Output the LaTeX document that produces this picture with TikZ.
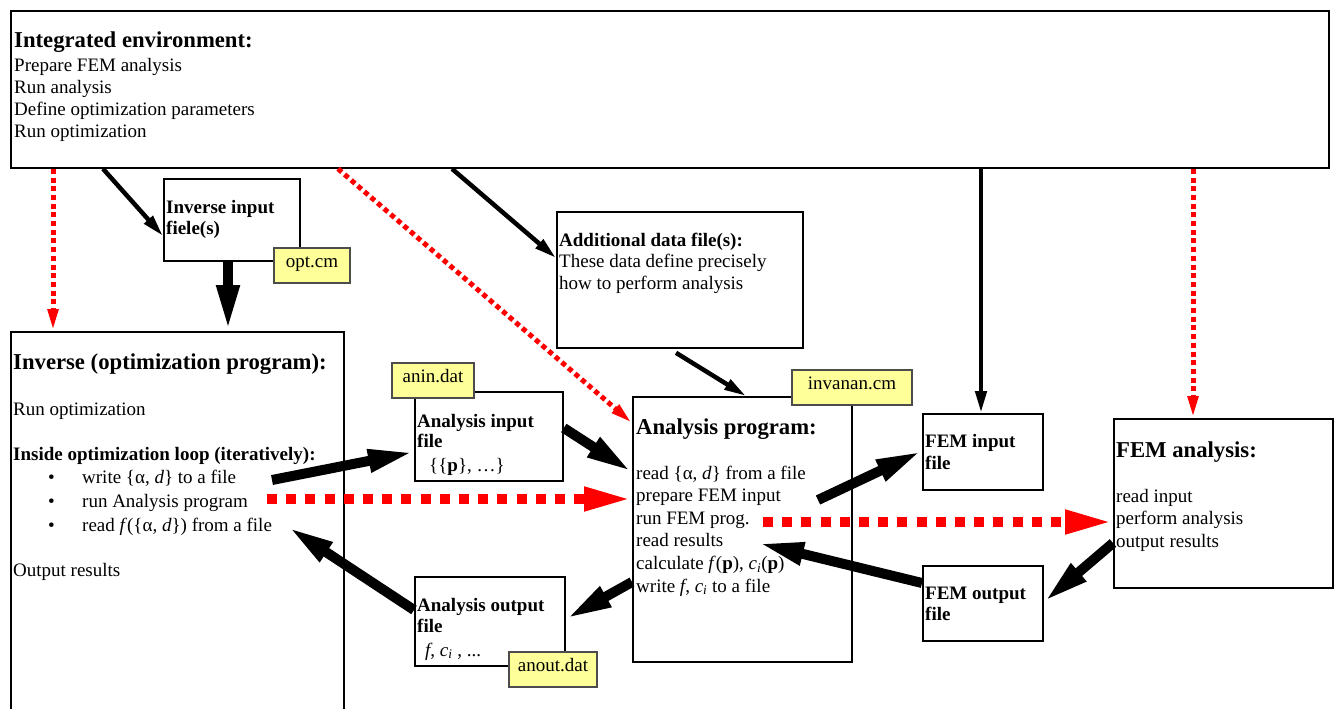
\documentclass[tikz,border=0pt]{standalone}
\usepackage{fontspec}
\setmainfont{Liberation Serif}
\usetikzlibrary{arrows.meta}
\definecolor{lbl}{RGB}{255,255,153}
\newcommand{\bodyfont}{\fontsize{19}{22}\selectfont}
\newcommand{\bigfont}{\fontsize{22.7}{26}\selectfont\bfseries}
\begin{document}
\begin{tikzpicture}[x=1pt,y=-1pt,
  box/.style={draw=black, line width=1.8pt, fill=white, inner sep=0, anchor=north west},
  lblbox/.style={draw=black!70, line width=1.2pt, fill=lbl, inner sep=0, minimum height=35pt, text height=12pt, text depth=8pt, font=\bodyfont},
  txt/.style={anchor=base west, inner sep=0, align=left, font=\bodyfont},
  thinarr/.style={line width=4.5pt, -{Triangle[length=22pt,width=11pt]}},
  thickarr/.style={line width=10pt, -{Triangle[length=46pt,width=21pt]}},
  reddot/.style={color=red, line width=5pt, dash pattern=on 5pt off 3.7pt, -{Triangle[length=22pt,width=10pt]}},
  reddash/.style={color=red, line width=10pt, dash pattern=on 10pt off 9.2pt, -{Triangle[length=48pt,width=22pt]}},
]
\useasboundingbox (0,0) rectangle (1339,709);
\clip (0,0) rectangle (1339,709);
\fill[white] (0,0) rectangle (1339,709);

% boxes
\node[box, minimum width=1318pt, minimum height=157pt] (top) at (10,10) {};
\node[box, minimum width=136pt, minimum height=82pt] (invin) at (163,178) {};
\node[box, minimum width=333pt, minimum height=420pt] (inv) at (10,331) {};
\node[box, minimum width=246pt, minimum height=136pt] (add) at (556,211) {};
\node[box, minimum width=219pt, minimum height=265pt] (ana) at (632,396) {};
\node[box, minimum width=148pt, minimum height=89pt] (ain) at (414,391) {};
\node[box, minimum width=150pt, minimum height=89pt] (aout) at (414,576) {};
\node[box, minimum width=120pt, minimum height=76pt] (femin) at (922,413) {};
\node[box, minimum width=120pt, minimum height=75pt] (femout) at (922,565) {};
\node[box, minimum width=219pt, minimum height=169pt] (fem) at (1113,418) {};

% texts (multi-line nodes are placed by the baseline of their last line)
\node[txt, font=\bigfont] (tH) at (14,48) {Integrated environment:};
\node[txt] (tB) at (14,137) {Prepare FEM analysis\\Run analysis\\Define optimization parameters\\Run optimization};

\node[txt, font=\fontsize{19}{21.7}\selectfont\bfseries] (iiT) at (166,234.7) {Inverse input\\fiele(s)};

\node[txt, font=\bigfont] (iH) at (13,369) {Inverse (optimization program):};
\node[txt] (iR) at (13,415) {Run optimization};
\node[txt, font=\fontsize{19}{22}\selectfont\bfseries] (iL) at (13,460) {Inside optimization loop (iteratively):};
\node[txt, font=\fontsize{19}{24}\selectfont] (iB) at (48,531) {\makebox[34pt][l]{•}write \{α, \textit{d}\} to a file\\\makebox[34pt][l]{•}run Analysis program\\\makebox[34pt][l]{•}read \textit{f}(\{α, \textit{d}\}) from a file};
\node[txt] (iO) at (13,576) {Output results};

\node[txt, font=\fontsize{19}{21.8}\selectfont] (adT) at (559,289.6) {\textbf{Additional data file(s):}\\These data define precisely\\how to perform analysis};

\node[txt, font=\fontsize{19}{20.6}\selectfont\bfseries] (aiT) at (417,447.6) {Analysis input\\file};
\node[txt] (aiP) at (429,471) {\{\{\textbf{p}\}, …\}};

\node[txt, font=\fontsize{19}{21}\selectfont\bfseries] (aoT) at (417,632) {Analysis output\\file};
\node[txt] (aoF) at (425,656) {\textit{f}, \textit{c}\textsubscript{\textit{i}} , ...};

\node[txt, font=\bigfont] (apH) at (636,434) {Analysis program:};
\node[txt, font=\fontsize{19}{22.6}\selectfont] (apB) at (636,592) {read \{α, \textit{d}\} from a file\\prepare FEM input\\run FEM prog.\\read results\\calculate \textit{f}(\textbf{p}), \textit{c}\textsubscript{\textit{i}}(\textbf{p})\\write \textit{f}, \textit{c}\textsubscript{\textit{i}} to a file};

\node[txt, font=\fontsize{19}{22.6}\selectfont\bfseries] (fiT) at (925,469.6) {FEM input\\file};
\node[txt, font=\fontsize{19}{21.4}\selectfont\bfseries] (foT) at (925,620.4) {FEM output\\file};

\node[txt, font=\bigfont] (faH) at (1116,457) {FEM analysis:};
\node[txt, font=\fontsize{19}{22.5}\selectfont] (faB) at (1116,547) {read input\\perform analysis\\output results};

% free ends
\coordinate (wS) at (272,480);
\coordinate (rS) at (267,499);
\coordinate (pS) at (818,500);
\coordinate (fS) at (763,522);
\coordinate (rrE) at (758,543);
\coordinate (rfE) at (288,527);

% connectors
\draw[thinarr] ([xshift=93pt]top.south west) -- ([yshift=-58pt]invin.north west);
\draw[thickarr] ([xshift=65pt]invin.south west) -- ([xshift=218pt]inv.north west);
\draw[reddot] ([xshift=43pt]top.south west) -- ([xshift=43pt]inv.north west);
\draw[reddot] ([xshift=328pt]top.south west) -- ([yshift=-27pt]ana.north west);
\draw[thinarr] ([xshift=442pt]top.south west) -- ([yshift=-47pt]add.north west);
\draw[thinarr] ([xshift=120pt,yshift=-4pt]add.south west) -- ([xshift=114pt]ana.north west);
\draw[thinarr] ([xshift=971pt]top.south west) -- ([xshift=59pt]femin.north west);
\draw[reddot] ([xshift=1183pt]top.south west) -- ([xshift=80pt]fem.north west);

\draw[thickarr] (wS) -- ([yshift=-61pt]ain.north west);
\draw[thickarr] ([yshift=-37pt]ain.north east) -- ([yshift=-76pt]ana.north west);
\draw[reddash] (rS) -- ([yshift=-103pt]ana.north west);
\draw[thickarr] (pS) -- ([yshift=-38pt]femin.north west);
\draw[reddash] (fS) -- ([yshift=-104pt]fem.north west);
\draw[thickarr] ([yshift=-125pt]fem.north west) -- ([yshift=-37pt]femout.north east);
\draw[thickarr] ([yshift=-18pt]femout.north west) -- (rrE);
\draw[thickarr] ([yshift=-186pt]ana.north west) -- ([yshift=-43pt]aout.north east);
\draw[thickarr] ([yshift=-34pt]aout.north west) -- (rfE);

% yellow labels
\node[lblbox, minimum width=76pt] (optcm) at (312,265.5) {opt.cm};
\node[lblbox, minimum width=82pt] (anin) at (433,380.5) {anin.dat};
\node[lblbox, minimum width=120pt] (invanan) at (852,387.5) {invanan.cm};
\node[lblbox, minimum width=88pt] (anout) at (553,669.5) {anout.dat};
\end{tikzpicture}
\end{document}
